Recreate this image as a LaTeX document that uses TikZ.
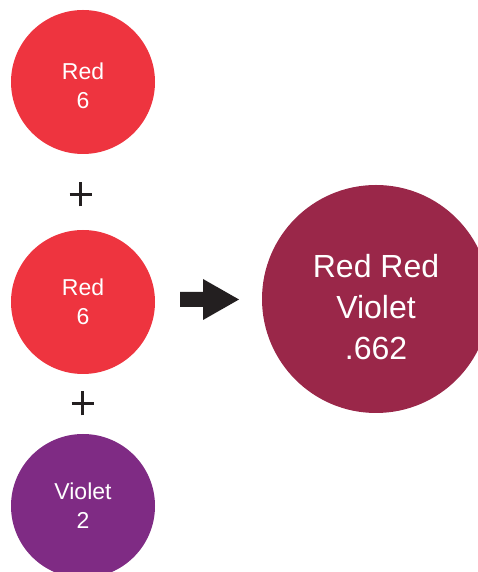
\documentclass[tikz,border=0pt]{standalone}
\usepackage{fontspec}
\setmainfont{Liberation Sans}
\definecolor{paintred}{HTML}{EE343F}
\definecolor{paintviolet}{HTML}{7F2B84}
\definecolor{mixwine}{HTML}{9A2749}
\definecolor{inkblack}{HTML}{231F20}
\tikzset{
  ball/.style={circle,inner sep=0pt,minimum size=144pt},
  bigball/.style={circle,inner sep=0pt,minimum size=228pt,fill=mixwine},
  balltext/.style={text=white,align=center,font=\fontsize{23}{29}\selectfont},
  bigtext/.style={text=white,align=center,font=\fontsize{32}{41}\selectfont},
  plusline/.style={draw=inkblack,line width=2.7pt}
}
\begin{document}
\begin{tikzpicture}[x=1pt,y=1pt]
	\useasboundingbox (0,0) rectangle (478,572);
	\clip (0,0) rectangle (478,572);
	% paints
	\node[ball,fill=paintred] (redA) at (83,490) {};
	\node[balltext] (redAtext) at ([yshift=-4pt]redA.center) {Red\\6};
	\node[ball,fill=paintred] (redB) at (83,270) {};
	\node[balltext] (redBtext) at (redB.center) {Red\\6};
	\node[ball,fill=paintviolet] (violet) at (83,66) {};
	\node[balltext] (violettext) at (violet.center) {Violet\\2};
	% result
	\node[bigball] (mix) at (376,273) {};
	\node[bigtext] (mixtext) at ([yshift=-8pt]mix.center) {Red Red\\Violet\\.662};
	% plus signs
	\coordinate (plusA) at (80.5,377.5);
	\coordinate (plusB) at (82.5,168.5);
	\foreach \p in {plusA,plusB}{
		\draw[plusline] ([xshift=-11pt]\p) -- ([xshift=11pt]\p);
		\draw[plusline] ([yshift=-12pt]\p) -- ([yshift=12pt]\p);
	}
	% arrow
	\fill[inkblack] (180,265) -- (203,265) -- (203,252) -- (239,272.5) -- (203,293) -- (203,280) -- (180,280) -- cycle;
\end{tikzpicture}
\end{document}
